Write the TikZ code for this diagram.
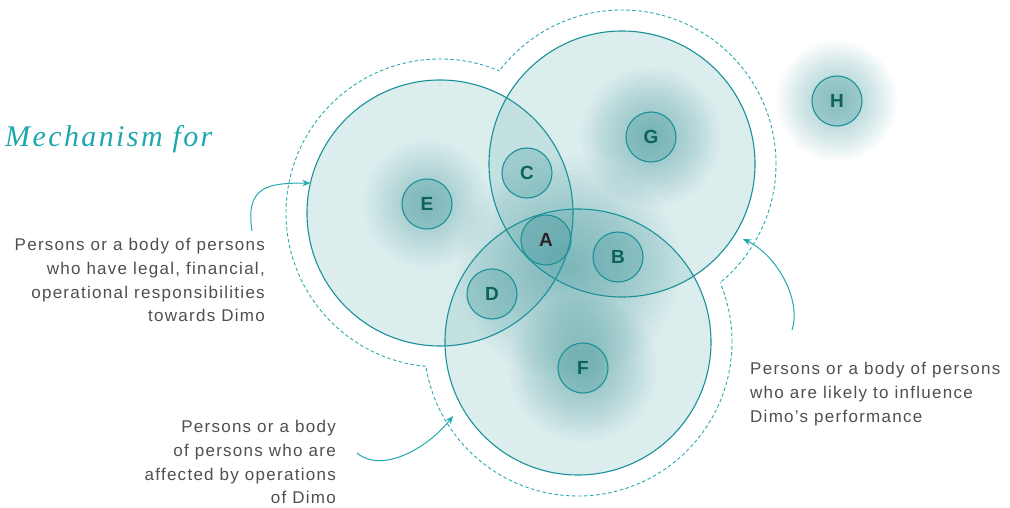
\documentclass[tikz,border=0pt]{standalone}
\usepackage{fontspec}
\setmainfont{Liberation Sans}
\newfontfamily\titlefont[LetterSpace=8]{Liberation Serif}
\newfontfamily\labfont[LetterSpace=7.5]{Liberation Sans}
\newfontfamily\letfont{Liberation Sans}
\usetikzlibrary{arrows.meta}
\definecolor{tealline}{HTML}{1A9199}
\definecolor{tealdash}{HTML}{2AAAB0}
\definecolor{arrowcol}{HTML}{22AAB1}
\definecolor{titlecol}{HTML}{1FA7AE}
\definecolor{textgray}{HTML}{4F4F4F}
\definecolor{lettercol}{HTML}{0D6357}
\definecolor{acol}{HTML}{2B2326}
\definecolor{circin}{HTML}{8CC4C6}
\definecolor{circrim}{HTML}{1F8288}
\definecolor{glowcol}{HTML}{2C8A8F}
\definecolor{smallfill}{HTML}{4E9FA3}
\pgfdeclareradialshading{bigshade}{\pgfpointorigin}{color(0bp)=(circin); color(28bp)=(circin); color(42bp)=(circrim!30!circin); color(48bp)=(circrim!60!circin); color(50bp)=(circrim)}
\newcommand\myglow[3]{%
  \foreach \gi in {1,...,24}{\fill[glowcol, fill opacity=#3] (#1) circle ({#2*\gi/24*1pt});}}
\begin{document}
\begin{tikzpicture}[x=1pt,y=-1pt,
  bigc/.style={circle, minimum size=266pt, inner sep=0pt, outer sep=0pt},
  bigline/.style={draw=tealline, line width=1.1pt},
  smallc/.style={circle, minimum size=50pt, inner sep=0pt, draw=tealline, line width=1.1pt,
     fill=smallfill, fill opacity=0.32, text opacity=1, text=lettercol,
     font=\letfont\bfseries\fontsize{19}{19}\selectfont},
  lab/.style={inner sep=0pt, text=textgray, font=\labfont\fontsize{17}{23.8}\selectfont},
  conn/.style={draw=arrowcol, line width=1pt, -{Stealth[length=8pt,width=6.5pt]}},
  dashc/.style={draw=tealdash, line width=0.9pt, dash pattern=on 3.5pt off 2.5pt}
]
\useasboundingbox (0,0) rectangle (1010,508);

% big circles (positions)
\node[bigc] (bE) at (440,213) {};
\node[bigc] (bG) at (622,164) {};
\node[bigc] (bF) at (578,342) {};

% dashed outline = boundary of union of enlarged circles
\begin{scope}[even odd rule]
  \clip (-50,-50) rectangle (1100,600) (bG.center) circle (154pt);
  \clip (-50,-50) rectangle (1100,600) (bF.center) circle (154pt);
  \draw[dashc] (bE.center) circle (154pt);
\end{scope}
\begin{scope}[even odd rule]
  \clip (-50,-50) rectangle (1100,600) (bE.center) circle (154pt);
  \clip (-50,-50) rectangle (1100,600) (bF.center) circle (154pt);
  \draw[dashc] (bG.center) circle (154pt);
\end{scope}
\begin{scope}[even odd rule]
  \clip (-50,-50) rectangle (1100,600) (bE.center) circle (154pt);
  \clip (-50,-50) rectangle (1100,600) (bG.center) circle (154pt);
  \draw[dashc] (bF.center) circle (154pt);
\end{scope}

% big circle fills
\shade[shading=bigshade, fill opacity=0.3] (bE.center) circle (133pt);
\shade[shading=bigshade, fill opacity=0.3] (bG.center) circle (133pt);
\shade[shading=bigshade, fill opacity=0.3] (bF.center) circle (133pt);

% small circle positions
\coordinate (pE) at (427,204);
\coordinate (pC) at (527,173);
\coordinate (pA) at (546,240);
\coordinate (pB) at (618,257);
\coordinate (pD) at (492,294);
\coordinate (pF) at (583,368);
\coordinate (pG) at (651,137);
\coordinate (pH) at (837,101);
\coordinate (pM) at (568,268);

% glows
\myglow{pE}{64}{0.02}
\myglow{pG}{70}{0.022}
\myglow{pF}{74}{0.022}
\myglow{pH}{60}{0.022}
\myglow{pM}{112}{0.025}

% big circle outlines
\draw[bigline] (bE.center) circle (133pt);
\draw[bigline] (bG.center) circle (133pt);
\draw[bigline] (bF.center) circle (133pt);

% small circles
\node[smallc] (E) at (pE) {E};
\node[smallc] (C) at (pC) {C};
\node[smallc, text=acol, fill opacity=0.4] (A) at (pA) {A};
\node[smallc] (B) at (pB) {B};
\node[smallc] (D) at (pD) {D};
\node[smallc] (F) at (pF) {F};
\node[smallc] (G) at (pG) {G};
\node[smallc] (H) at (pH) {H};

% title
\node[anchor=base west, inner sep=0pt, text=titlecol,
  font=\titlefont\itshape\fontsize{30}{32}\selectfont] (title) at (5,147) {Mechanism for};

% labels
\node[lab, anchor=north east, align=right] (t1) at (265,238)
  {Persons or a body of persons\\who have legal, financial,\\operational responsibilities\\towards Dimo};
\node[lab, anchor=north east, align=right] (t2) at (336,420)
  {Persons or a body\\of persons who are\\affected by operations\\of Dimo};
\node[lab, anchor=north west, align=left] (t3) at (750,362)
  {Persons or a body of persons\\who are likely to influence\\Dimo’s performance};

% arrows
\coordinate (s1) at (252,231);
\coordinate (s2) at (357,453);
\coordinate (e2) at (453,416);
\coordinate (s3) at (792,330);
\coordinate (e3) at (743,239);
\draw[conn] (s1) .. controls (245,186) and (268,183) .. (bE.167.5);
\draw[conn] (s2) .. controls (382,474) and (428,448) .. (e2);
\draw[conn] (s3) .. controls (802,298) and (775,254) .. (e3);
\end{tikzpicture}
\end{document}
